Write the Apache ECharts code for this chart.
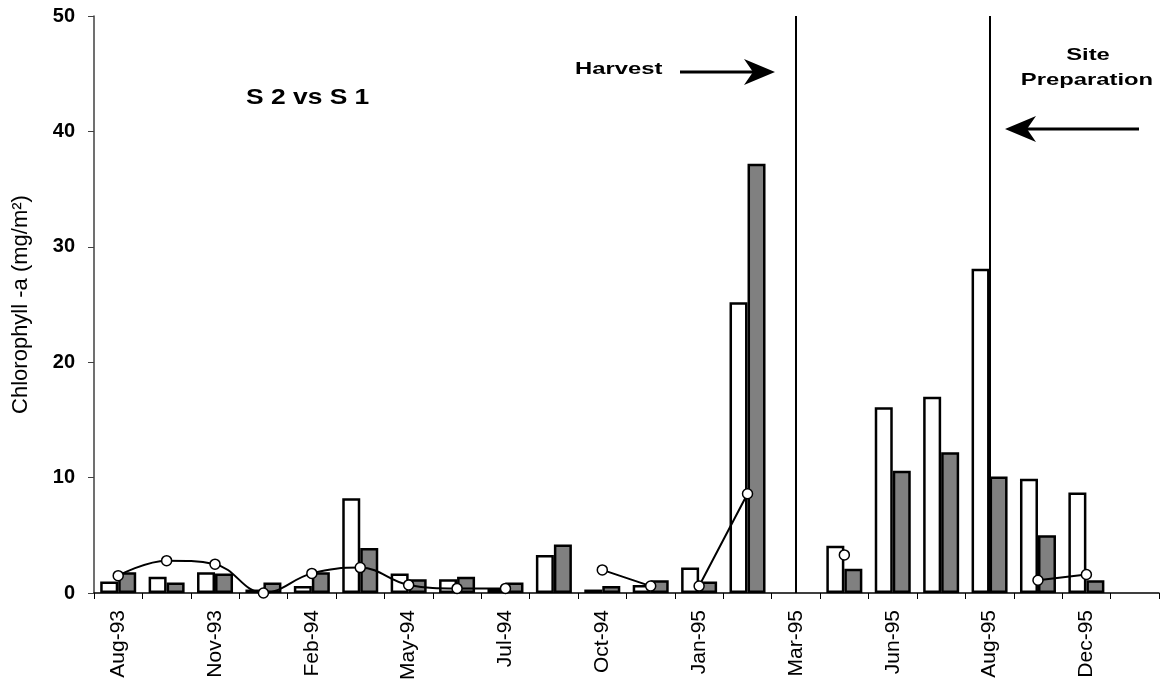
<!DOCTYPE html>
<html>
<head>
<meta charset="utf-8">
<script src="https://cdn.jsdelivr.net/npm/echarts@6/dist/echarts.min.js"></script>
<style>
html,body{margin:0;padding:0;background:#fff;}
#c{width:1163px;height:684px;}
</style>
</head>
<body>
<div id="c"></div>
<script>
// Sampling dates (labels shown every second category)
const categories = ['Aug-93','Oct-93','Nov-93','Jan-94','Feb-94','Apr-94','May-94','Jun-94','Jul-94','Sep-94','Oct-94','Dec-94','Jan-95','Feb-95','Mar-95','May-95','Jun-95','Jul-95','Aug-95','Oct-95','Dec-95','Jan-96'];
// S 2 (white bars)
const s2 = [1.0, 1.4, 1.8, 0.3, 0.6, 8.2, 1.7, 1.2, 0.4, 3.3, 0.3, 0.7, 2.2, 25.2, null, 4.1, 16.1, 17.0, 28.1, 9.9, 8.7, null];
// S 1 (grey bars)
const s1 = [1.8, 0.9, 1.7, 0.9, 1.8, 3.9, 1.2, 1.4, 0.9, 4.2, 0.6, 1.1, 1.0, 37.2, null, 2.1, 10.6, 12.2, 10.1, 5.0, 1.1, null];
// ratio line (white markers)
const ratio = [1.5, 2.8, 2.5, 0.0, 1.7, 2.2, 0.7, 0.4, 0.4, null, 2.0, 0.6, 0.6, 8.6, null, 3.3, null, null, null, 1.1, 1.6, null];
const lineBreakAfter = [11];
// event lines
const events = ['Mar-95', 'Aug-95'];
const yTicks = {min: 0, max: 50, interval: 10};

// split ratio line into segments
const segments = [];
let cur = new Array(ratio.length).fill(null);
for (let i = 0; i < ratio.length; i++) {
  cur[i] = ratio[i];
  if (lineBreakAfter.includes(i)) {
    segments.push(cur);
    cur = new Array(ratio.length).fill(null);
  }
}
segments.push(cur);

const chart = echarts.init(document.getElementById('c'), null, {renderer: 'canvas'});
const FONT = 'Liberation Sans, Arial, sans-serif';

const lineSeries = segments.map((seg, k) => {
  const s = {
    type: 'line',
    data: seg,
    smooth: 0.4,
    connectNulls: false,
    symbol: 'circle',
    symbolSize: 10,
    showAllSymbol: true,
    lineStyle: {color: '#000', width: 2},
    itemStyle: {color: '#fff', borderColor: '#000', borderWidth: 1.5},
    z: 5,
    silent: true
  };
  if (k === 0) {
    s.markLine = {
      silent: true, symbol: 'none', label: {show: false},
      lineStyle: {color: '#000', width: 2, type: 'solid'},
      data: events.map(e => [{coord: [e, yTicks.min]}, {coord: [e, yTicks.max]}])
    };
  }
  return s;
});

chart.setOption({
  animation: false,
  backgroundColor: '#fff',
  grid: {left: 94, right: 4, top: 16, bottom: 91, containLabel: false},
  xAxis: {
    type: 'category',
    data: categories,
    boundaryGap: true,
    axisLine: {lineStyle: {color: '#000', width: 1.5}},
    axisTick: {show: true, interval: 0, length: 6, lineStyle: {color: '#000', width: 1}},
    axisLabel: {interval: 1, rotate: 90, color: '#000', fontFamily: FONT, fontSize: 21, margin: 17},
    splitLine: {show: false}
  },
  yAxis: {
    type: 'value',
    min: yTicks.min, max: yTicks.max, interval: yTicks.interval,
    name: 'Chlorophyll -a (mg/m\u00B2)',
    nameLocation: 'middle',
    nameGap: 62,
    nameTextStyle: {color: '#000', fontFamily: FONT, fontSize: 22},
    axisLine: {show: true, lineStyle: {color: '#404040', width: 1.5}},
    axisTick: {show: true, length: 6, lineStyle: {color: '#404040'}},
    axisLabel: {color: '#000', fontFamily: FONT, fontSize: 20, fontWeight: 'bold', margin: 19},
    splitLine: {show: false}
  },
  series: [
    {
      type: 'bar', name: 'S 2', data: s2, barWidth: 18, barGap: '0%',
      itemStyle: {color: '#fff', borderColor: '#000', borderWidth: 2.5},
      silent: true
    },
    {
      type: 'bar', name: 'S 1', data: s1, barWidth: 18,
      itemStyle: {color: '#808080', borderColor: '#000', borderWidth: 2.5},
      silent: true
    },
    ...lineSeries
  ],
  graphic: [
    {type: 'text', x: 246, y: 98, scaleX: 1.2, style: {text: 'S 2 vs S 1', font: 'bold 22px ' + FONT, fill: '#000', verticalAlign: 'middle'}},
    {type: 'text', x: 575, y: 69, scaleX: 1.4, style: {text: 'Harvest', font: 'bold 17px ' + FONT, fill: '#000', verticalAlign: 'middle'}},
    {type: 'line', shape: {x1: 680, y1: 72, x2: 756, y2: 72}, style: {stroke: '#000', lineWidth: 3}},
    {type: 'polygon', shape: {points: [[775, 72], [744, 59], [753, 72], [744, 85]]}, style: {fill: '#000'}},
    {type: 'text', x: 1088, y: 55, scaleX: 1.4, style: {text: 'Site', font: 'bold 17px ' + FONT, fill: '#000', align: 'center', verticalAlign: 'middle'}},
    {type: 'text', x: 1087, y: 80, scaleX: 1.4, style: {text: 'Preparation', font: 'bold 17px ' + FONT, fill: '#000', align: 'center', verticalAlign: 'middle'}},
    {type: 'line', shape: {x1: 1026, y1: 129, x2: 1139, y2: 129}, style: {stroke: '#000', lineWidth: 3}},
    {type: 'polygon', shape: {points: [[1005, 129], [1036, 116], [1027, 129], [1036, 142]]}, style: {fill: '#000'}}
  ]
});
</script>
</body>
</html>
